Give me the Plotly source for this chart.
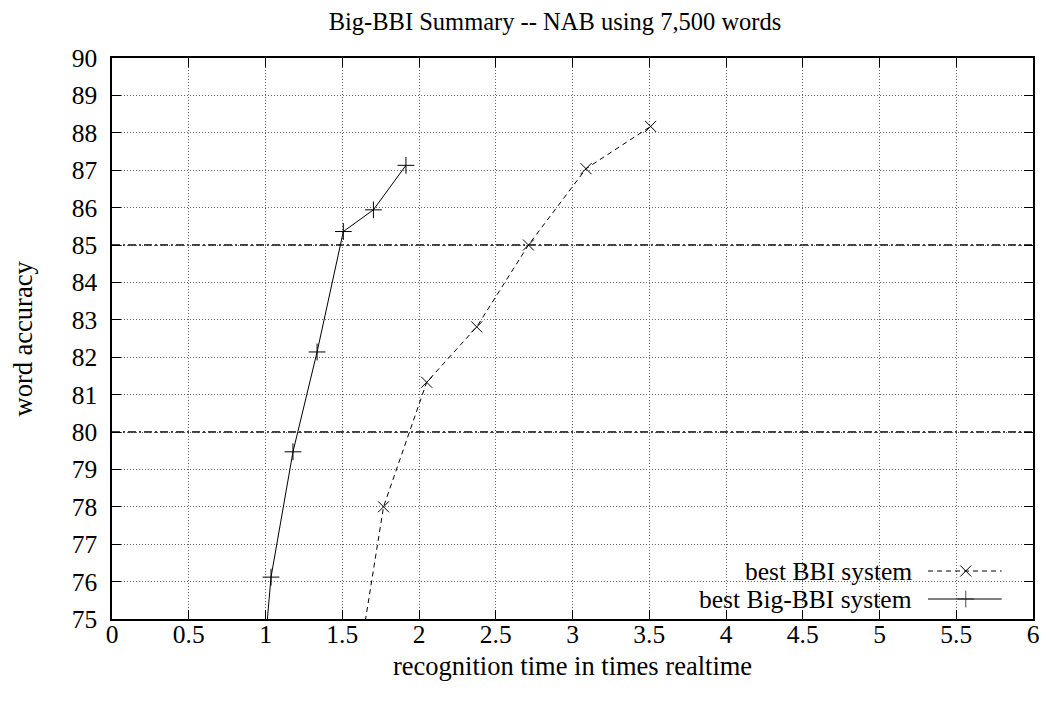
import plotly.graph_objects as go

# Recognition time (x realtime) vs. word accuracy (%) for the two systems
bbi_time = [1.613, 1.769, 2.05, 2.376, 2.713, 3.088, 3.509]
bbi_acc = [74.0, 78.0, 81.33, 82.81, 85.0, 87.04, 88.17]

big_time = [0.991, 1.036, 1.179, 1.336, 1.507, 1.703, 1.915]
big_acc = [74.0, 76.12, 79.47, 82.14, 85.36, 85.94, 87.13]

ref_levels = [80, 85]

x_ticks = [0, 0.5, 1, 1.5, 2, 2.5, 3, 3.5, 4, 4.5, 5, 5.5, 6]
x_labels = ["0", "0.5", "1", "1.5", "2", "2.5", "3", "3.5", "4", "4.5", "5", "5.5", "6"]
y_ticks = list(range(75, 91))

series_names = ["best BBI system", "best Big-BBI system"]

FONT = "Liberation Serif, Times New Roman, serif"
FS_TICK = 25.5
FS_TEXT = 26.5
FS_KEY = 25.5
FS_TITLE = 24.5

fig = go.Figure()

fig.add_trace(go.Scatter(
    x=bbi_time, y=bbi_acc, mode="lines+markers",
    line=dict(color="black", width=1, dash="5px,4px"),
    marker=dict(symbol="x-thin", size=11, line=dict(color="black", width=1)),
    showlegend=False, cliponaxis=True,
))
fig.add_trace(go.Scatter(
    x=big_time, y=big_acc, mode="lines+markers",
    line=dict(color="black", width=1),
    marker=dict(symbol="cross-thin", size=12, line=dict(color="black", width=1)),
    showlegend=False, cliponaxis=True,
))

# heavier dash-dot reference levels
for lv in ref_levels:
    fig.add_shape(type="line", xref="paper", x0=0, x1=1, yref="y", y0=lv, y1=lv,
                  line=dict(color="black", width=1.5, dash="8px,3px,2px,3px"),
                  layer="between")

# white key area erasing the grid
fig.add_shape(type="rect", xref="paper", yref="paper", x0=0.541, x1=1, y0=0, y1=0.111,
              fillcolor="white", line=dict(width=0), layer="between")

# key samples drawn on an overlay axis spanning the plot area
key_y = [(619 - 571) / 561, (619 - 599) / 561]
fig.add_trace(go.Scatter(
    x=[0.886, 0.927, 0.966], y=[key_y[0]] * 3, mode="lines",
    line=dict(color="black", width=1, dash="5px,4px"),
    xaxis="x2", yaxis="y2", showlegend=False, hoverinfo="skip",
))
fig.add_trace(go.Scatter(
    x=[0.927], y=[key_y[0]], mode="markers",
    marker=dict(symbol="x-thin", size=11, line=dict(color="black", width=1)),
    xaxis="x2", yaxis="y2", showlegend=False, hoverinfo="skip",
))
fig.add_trace(go.Scatter(
    x=[0.886, 0.927, 0.966], y=[key_y[1]] * 3, mode="lines+markers",
    line=dict(color="black", width=1),
    marker=dict(symbol="cross-thin", size=[0, 12, 0], line=dict(color="black", width=1)),
    xaxis="x2", yaxis="y2", showlegend=False, hoverinfo="skip",
))
for name, yk in zip(series_names, key_y):
    fig.add_annotation(text=name, xref="paper", yref="paper", x=0.871, y=yk,
                       xanchor="right", yanchor="middle", showarrow=False,
                       font=dict(family=FONT, size=FS_KEY, color="black"))

axis_common = dict(
    showline=True, linecolor="black", linewidth=1.5, mirror="allticks",
    ticks="inside", ticklen=9, tickwidth=1.2, tickcolor="black",
    showgrid=True, gridcolor="#666", gridwidth=1, griddash="1px,2px",
    zeroline=False, automargin=False,
    tickfont=dict(family=FONT, size=FS_TICK, color="black"),
)

fig.update_layout(
    width=1044, height=703,
    margin=dict(l=112, r=11, t=58, b=84),
    paper_bgcolor="white", plot_bgcolor="white",
    title=dict(text="Big-BBI Summary -- NAB using 7,500 words",
               font=dict(family=FONT, size=FS_TITLE, color="black"),
               x=555 / 1044, xref="container", xanchor="center",
               y=1 - 21 / 703, yref="container", yanchor="middle"),
    xaxis=dict(range=[0, 6], tickvals=x_ticks, ticktext=x_labels,
               ticklabelstandoff=-8, **axis_common),
    yaxis=dict(range=[75, 90], tickvals=y_ticks, ticklabelstandoff=8,
               **axis_common),
    xaxis2=dict(range=[0, 1], overlaying="x", anchor="y2", visible=False,
                automargin=False),
    yaxis2=dict(range=[0, 1], overlaying="y", anchor="x2", visible=False,
                automargin=False),
    showlegend=False,
)

fig.add_annotation(text="recognition time in times realtime", xref="paper", yref="paper",
                   x=(572 - 112) / 921, y=-(666 - 619) / 561, xanchor="center",
                   yanchor="middle", showarrow=False,
                   font=dict(family=FONT, size=FS_TEXT, color="black"))
fig.add_annotation(text="word accuracy", xref="paper", yref="paper",
                   x=(22 - 112) / 921, y=0.5, xanchor="center", yanchor="middle",
                   textangle=-90, showarrow=False,
                   font=dict(family=FONT, size=FS_TEXT, color="black"))

fig.write_html("out.html")
